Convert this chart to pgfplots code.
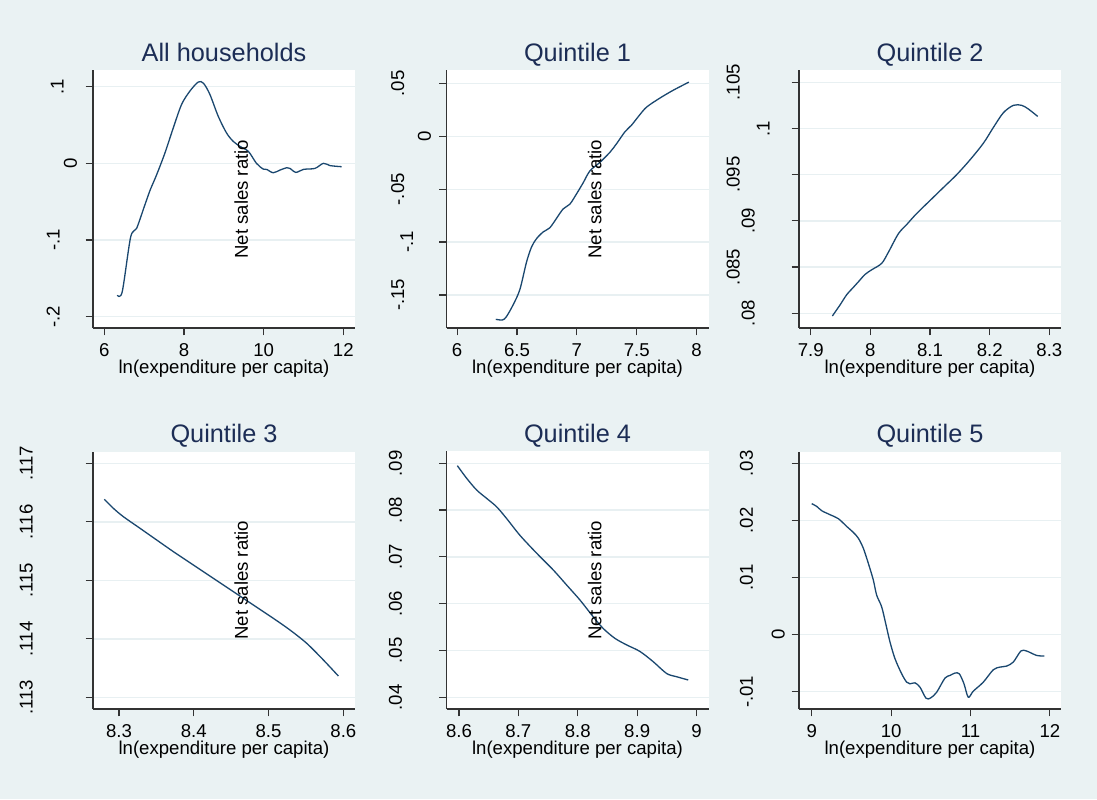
\documentclass[border=0pt]{standalone}
\usepackage{fontspec}
\setmainfont{Liberation Sans}
\usepackage{pgfplots}
\pgfplotsset{compat=1.18}
\definecolor{bgc}{RGB}{234,242,243}
\definecolor{gridc}{RGB}{232,240,242}
\definecolor{linec}{RGB}{26,71,111}
\definecolor{titlec}{RGB}{28,45,85}
\newcommand{\yl}[2]{\rule[-#1]{0pt}{#1}#2}
\pgfplotsset{stata/.style={
  scale only axis, width=131pt, height=128.75pt,
  anchor=south west,
  axis x line*=bottom, axis y line*=left,
  axis line style={black!80, line width=0.6pt},
  tick align=outside, major tick length=3.65pt,
  major tick style={black!80, line width=0.6pt},
  ymajorgrids, grid style={color=gridc, line width=0.7pt},
  axis background/.style={fill=white},
  scaled y ticks=false, scaled x ticks=false,
  tick label style={font=\fontsize{9.3}{11}\selectfont},
  yticklabel style={rotate=90, anchor=south, inner sep=0pt},
  xticklabel style={inner sep=0pt, anchor=north, yshift=-4pt},
  /pgf/number format/assume math mode=true,
  xlabel={ln(expenditure per capita)},
  label style={font=\fontsize{9.3}{11}\selectfont},
  xlabel style={at={(axis description cs:0.5,0)}, anchor=base, yshift=-22.5pt},
  ylabel style={at={(axis description cs:0.566,0.5)}, anchor=center, rotate=0},
  title style={at={(axis description cs:0.5,1)}, anchor=base, yshift=-1.35pt, font=\fontsize{12.65}{15}\selectfont, text=titlec},
  cycle list={{color=linec, mark=none}},
  every axis plot post/.append style={smooth, tension=0.5, line width=0.65pt, color=linec, mark=none},
}}
\begin{document}
\begin{tikzpicture}
\fill[bgc] (0,0) rectangle (548.5pt,399.5pt);
\useasboundingbox (0,0) rectangle (548.5pt,399.5pt);
% All households
\begin{axis}[stata, at={(46.5pt,235.5pt)},
  title={All households}, ylabel={Net sales ratio},
  xmin=5.716, xmax=12.294, ymin=-0.2148, ymax=0.1211,
  xtick={6,8,10,12},
  ytick={-0.2,-0.1,0,0.1},
  yticklabels={\yl{12.85pt}{-.2},\yl{12.85pt}{-.1},\yl{4.15pt}{0},\yl{10.85pt}{.1}}]
\addplot coordinates {(6.326,-0.172) (6.45,-0.1675) (6.66,-0.0965) (6.81,-0.085) (7.0,-0.057) (7.15,-0.035) (7.31,-0.0154) (7.52,0.0132) (7.73,0.046) (7.94,0.0768) (8.15,0.0943) (8.36,0.1061) (8.49,0.1044) (8.65,0.09) (8.86,0.0614) (9.07,0.0395) (9.24,0.0285) (9.41,0.022) (9.62,0.0154) (9.82,0) (9.99,-0.0075) (10.08,-0.008) (10.24,-0.0123) (10.41,-0.0088) (10.58,-0.0057) (10.66,-0.0066) (10.81,-0.0118) (11.0,-0.0079) (11.29,-0.0066) (11.5,0) (11.67,-0.003) (11.96,-0.0044)};
\end{axis}
% Quintile 1
\begin{axis}[stata, at={(223.25pt,235.5pt)},
  title={Quintile 1}, ylabel={Net sales ratio},
  xmin=5.911, xmax=8.10, ymin=-0.1813, ymax=0.0623,
  xtick={6,6.5,7,7.5,8},
  ytick={-0.15,-0.1,-0.05,0,0.05},
  yticklabels={\yl{17.35pt}{-.15},\yl{12.85pt}{-.1},\yl{17.35pt}{-.05},\yl{4pt}{0},\yl{17.35pt}{.05}}]
\addplot coordinates {(6.323,-0.1731) (6.379,-0.1737) (6.412,-0.1705) (6.468,-0.1593) (6.524,-0.1449) (6.579,-0.1192) (6.621,-0.1048) (6.663,-0.0968) (6.719,-0.0904) (6.774,-0.0865) (6.83,-0.0776) (6.886,-0.0686) (6.942,-0.0641) (6.997,-0.0545) (7.053,-0.0439) (7.109,-0.0327) (7.192,-0.0247) (7.276,-0.0151) (7.331,-0.0071) (7.401,0.0042) (7.457,0.0106) (7.513,0.0186) (7.582,0.0276) (7.694,0.0362) (7.805,0.0436) (7.936,0.0513)};
\end{axis}
% Quintile 2
\begin{axis}[stata, at={(399.5pt,235.5pt)},
  title={Quintile 2},
  xmin=7.8804, xmax=8.3195, ymin=0.0784, ymax=0.10627,
  xtick={7.9,8,8.1,8.2,8.3},
  ytick={0.08,0.085,0.09,0.095,0.1,0.105},
  yticklabels={\yl{18.35pt}{.08},\yl{25.85pt}{.085},\yl{18.35pt}{.09},\yl{25.85pt}{.095},\yl{10.85pt}{.1},\yl{25.85pt}{.105}}]
\addplot coordinates {(7.9363,0.0797) (7.9492,0.0809) (7.9603,0.0820) (7.9715,0.0828) (7.9799,0.0834) (7.9911,0.0842) (8.0022,0.0847) (8.019,0.0854) (8.0302,0.0866) (8.0469,0.0886) (8.0609,0.0896) (8.0777,0.0908) (8.1,0.0922) (8.1223,0.0936) (8.1447,0.0950) (8.167,0.0966) (8.1894,0.0984) (8.2061,0.1001) (8.2229,0.1017) (8.2397,0.1025) (8.2536,0.1025) (8.2648,0.1021) (8.2804,0.1013)};
\end{axis}
% Quintile 3
\begin{axis}[stata, at={(46.5pt,45pt)},
  title={Quintile 3}, ylabel={Net sales ratio},
  xmin=8.2652, xmax=8.6156, ymin=0.1128, ymax=0.117202,
  xtick={8.3,8.4,8.5,8.6},
  ytick={0.113,0.114,0.115,0.116,0.117},
  yticklabels={\yl{26.35pt}{.113},\yl{26.35pt}{.114},\yl{26.35pt}{.115},\yl{26.35pt}{.116},\yl{26.35pt}{.117}}]
\addplot coordinates {(8.2804,0.116385) (8.2924,0.116231) (8.3058,0.116088) (8.3281,0.115889) (8.3504,0.115689) (8.3727,0.11549) (8.3994,0.115262) (8.4262,0.115034) (8.4529,0.114806) (8.4797,0.114578) (8.5064,0.11435) (8.5287,0.11415) (8.551,0.113923) (8.5733,0.113638) (8.5933,0.113365)};
\end{axis}
% Quintile 4
\begin{axis}[stata, at={(223.25pt,45pt)},
  title={Quintile 4}, ylabel={Net sales ratio},
  xmin=8.579, xmax=9.0201, ymin=0.0375, ymax=0.09252,
  xtick={8.6,8.7,8.8,8.9,9},
  ytick={0.04,0.05,0.06,0.07,0.08,0.09},
  yticklabels={\yl{18.5pt}{.04},\yl{18.5pt}{.05},\yl{18.5pt}{.06},\yl{18.5pt}{.07},\yl{18.5pt}{.08},\yl{18.5pt}{.09}}]
\addplot coordinates {(8.5972,0.0895) (8.6129,0.0868) (8.6297,0.0843) (8.6466,0.0825) (8.6634,0.0807) (8.6802,0.0782) (8.7027,0.0746) (8.7307,0.0708) (8.7588,0.0672) (8.7812,0.064) (8.8036,0.0608) (8.826,0.0572) (8.8429,0.0547) (8.8625,0.0526) (8.8822,0.0512) (8.9046,0.0498) (8.9271,0.0476) (8.9495,0.0451) (8.9663,0.0444) (8.986,0.0437)};
\end{axis}
% Quintile 5
\begin{axis}[stata, at={(399.5pt,45pt)},
  title={Quintile 5},
  xmin=8.84, xmax=12.14, ymin=-0.01303, ymax=0.03207,
  xtick={9,10,11,12},
  ytick={-0.01,0,0.01,0.02,0.03},
  yticklabels={\yl{19.2pt}{-.01},\yl{3.35pt}{0},\yl{19.2pt}{.01},\yl{19.2pt}{.02},\yl{19.2pt}{.03}}]
\addplot coordinates {(9.0,0.02293) (9.063,0.02246) (9.126,0.0217) (9.231,0.021) (9.336,0.0203) (9.441,0.01894) (9.525,0.01789) (9.587,0.01689) (9.65,0.01513) (9.713,0.01249) (9.776,0.00956) (9.818,0.00692) (9.881,0.00487) (9.932,0.00194) (9.986,-0.00129) (10.049,-0.00422) (10.133,-0.00686) (10.196,-0.00833) (10.238,-0.00862) (10.301,-0.00845) (10.364,-0.00921) (10.44,-0.01114) (10.498,-0.01109) (10.574,-0.01009) (10.678,-0.00762) (10.741,-0.00716) (10.804,-0.00674) (10.859,-0.00686) (10.918,-0.00862) (10.972,-0.01097) (11.035,-0.00991) (11.161,-0.00833) (11.287,-0.00616) (11.371,-0.00569) (11.455,-0.00551) (11.539,-0.00481) (11.635,-0.00287) (11.706,-0.00287) (11.832,-0.00364) (11.929,-0.00375)};
\end{axis}
\end{tikzpicture}
\end{document}
